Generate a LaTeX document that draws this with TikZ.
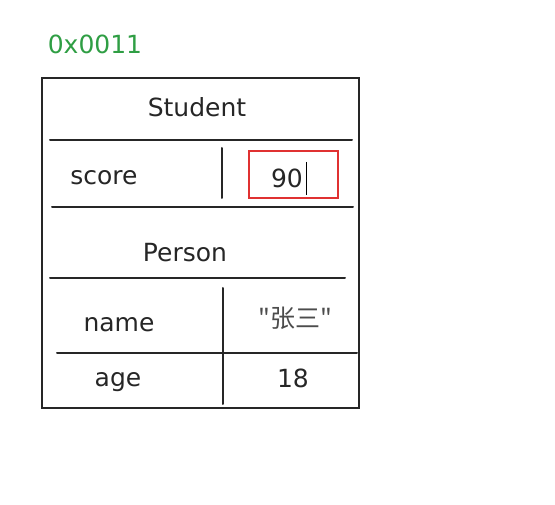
\documentclass[tikz,border=0pt]{standalone}
\usepackage{fontspec}
\setmainfont{DejaVu Sans}
\newfontfamily\cjk{Noto Sans CJK SC}
\definecolor{addrgreen}{RGB}{47,158,68}
\definecolor{markred}{RGB}{224,49,49}
\tikzset{
  cell/.style={font=\fontsize{25}{28}\selectfont\color{black!85},inner sep=0pt},
  rule/.style={line width=2pt,black!85,line cap=round}
}
\begin{document}
\begin{tikzpicture}[x=1pt,y=-1pt]
    \useasboundingbox (0,0) rectangle (555,505);

    % Address above the object
    \node[font=\fontsize{25}{28}\selectfont,text=addrgreen,inner sep=0pt] (addr) at (95,44) {0x0011};

    % Outline of the object
    \draw[rule] (42,78) rectangle (359,408);

    % Student part
    \node[cell] (student) at (197,107) {Student};
    \draw[rule] (50,140) -- (352,140);
    \draw[rule] (222,148) -- (222,198);
    \node[cell] (score) at (104,178) {score};
    \draw[markred,line width=1.4pt] (249,151) rectangle (338,198);
    \node[cell] (scoreval) at (287,178) {90};
    \draw[black,line width=1pt] (306,162) -- (306,195);
    \draw[rule] (52,207) -- (353,207);

    % Person part
    \node[cell] (person) at (185,253) {Person};
    \draw[rule] (50,278) -- (345,278);
    \draw[rule] (223,288) -- (223,404);
    \node[cell] (name) at (119,325) {name};
    \node[cell,text=black!70] (nameval) at (295,318) {\cjk "张三"};
    \draw[rule] (57,353) -- (357,353);
    \node[cell] (age) at (118,382) {age};
    \node[cell] (ageval) at (293,378) {18};
\end{tikzpicture}
\end{document}
